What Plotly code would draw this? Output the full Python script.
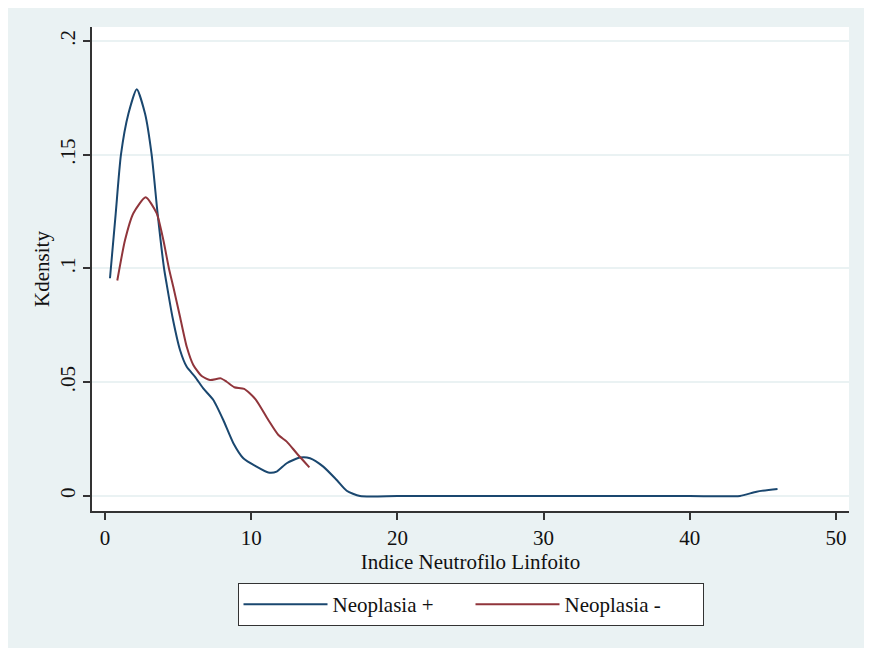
import plotly.graph_objects as go

# Neoplasia + (blue)
pos_x = [0.34, 0.73, 1.09, 1.6, 2.17, 2.74, 3.19, 3.6, 4.04, 4.22, 4.61, 5.13, 5.59, 6.16, 6.72,
         7.41, 8.09, 8.78, 9.46, 10.37, 11.17, 11.74, 12.43, 13.34, 14.02, 14.93, 15.85, 16.53,
         17.44, 20, 25, 30, 35, 40, 43.43, 44.57, 46.0]
pos_y = [0.0957, 0.124, 0.15, 0.168, 0.1788, 0.168, 0.15, 0.124, 0.1, 0.093, 0.0788, 0.0642,
         0.0568, 0.0524, 0.0473, 0.0422, 0.0334, 0.0232, 0.0166, 0.0129, 0.0103, 0.0107, 0.0144,
         0.0169, 0.0166, 0.0129, 0.0070, 0.0023, 0.0, 0.0, 0.0, 0.0, 0.0, 0.0, 0.0, 0.0019, 0.0031]

# Neoplasia - (red)
neg_x = [0.84, 1.37, 1.94, 2.78, 3.53, 3.99, 4.38, 4.67, 5.13, 5.59, 6.04, 6.61, 7.18, 7.92,
         8.32, 8.84, 9.52, 10.3, 11.17, 11.86, 12.43, 13.11, 13.98]
neg_y = [0.0947, 0.1125, 0.1243, 0.1313, 0.1243, 0.1125, 0.0998, 0.092, 0.0788, 0.0656, 0.0576,
         0.0527, 0.0510, 0.0517, 0.0502, 0.0478, 0.0471, 0.0425, 0.0334, 0.0268, 0.0239, 0.0188,
         0.0126]

y_tickvals = [0, 0.05, 0.1, 0.15, 0.2]
y_ticktext = ["0", ".05", ".1", ".15", ".2"]
x_tickvals = [0, 10, 20, 30, 40, 50]

FONT = "Liberation Serif, Times New Roman, serif"
BG = "#EAF2F3"

fig = go.Figure()
fig.add_trace(go.Scatter(x=pos_x, y=pos_y, mode="lines", name="Neoplasia +",
                         line=dict(color="#1A476F", width=2, shape="spline", smoothing=0.6)))
fig.add_trace(go.Scatter(x=neg_x, y=neg_y, mode="lines", name="Neoplasia -",
                         line=dict(color="#90353B", width=2, shape="spline", smoothing=0.6)))

# page has an 8px body margin, so figure coords = screen coords - 8
OFF = 8
W, H = 864, 646
L, T = 92 - OFF, 27 - OFF
R = W - (849 - OFF)
B = H - (511 - OFF)
pw, ph = W - L - R, H - T - B

def px2paper_x(p):
    return (p - OFF - L) / pw

def px2paper_y(p):
    return (H - B - (p - OFF)) / ph

fig.update_layout(
    width=W, height=H,
    margin=dict(l=L, r=R, t=T, b=B),
    paper_bgcolor="white",
    plot_bgcolor="white",
    font=dict(family=FONT, size=21, color="#111111"),
    showlegend=True,
    legend=dict(orientation="h", x=0.5, xanchor="center", y=px2paper_y(583), yanchor="top",
                bgcolor="white", bordercolor="#333333", borderwidth=1,
                font=dict(family=FONT, size=21), entrywidth=133, entrywidthmode="pixels",
                itemwidth=84),
    shapes=[
        dict(type="rect", xref="paper", yref="paper",
             x0=px2paper_x(6), x1=px2paper_x(866), y0=px2paper_y(648), y1=px2paper_y(4),
             fillcolor=BG, line=dict(width=0), layer="below"),
        dict(type="rect", xref="paper", yref="paper", x0=0, x1=1, y0=0, y1=1,
             fillcolor="white", line=dict(width=0), layer="below"),
    ],
    xaxis=dict(range=[-0.89, 50.89], tickvals=x_tickvals, showgrid=False, zeroline=False,
               showline=True, linecolor="#333333", linewidth=1.5,
               ticks="outside", ticklen=7, tickcolor="#333333", tickwidth=1.5,
               tickfont=dict(family=FONT, size=21),
               title=dict(text="Indice Neutrofilo Linfoito", font=dict(family=FONT, size=21),
                          standoff=2)),
    yaxis=dict(range=[-0.0066, 0.20615], tickvals=y_tickvals, ticktext=y_ticktext,
               tickangle=-90, showgrid=True, gridcolor=BG, gridwidth=2, zeroline=False,
               showline=True, linecolor="#333333", linewidth=1.5,
               ticks="outside", ticklen=7, tickcolor="#333333", tickwidth=1.5,
               tickfont=dict(family=FONT, size=21),
               title=dict(text="Kdensity", font=dict(family=FONT, size=21), standoff=0)),
)

fig.write_html("out.html")
